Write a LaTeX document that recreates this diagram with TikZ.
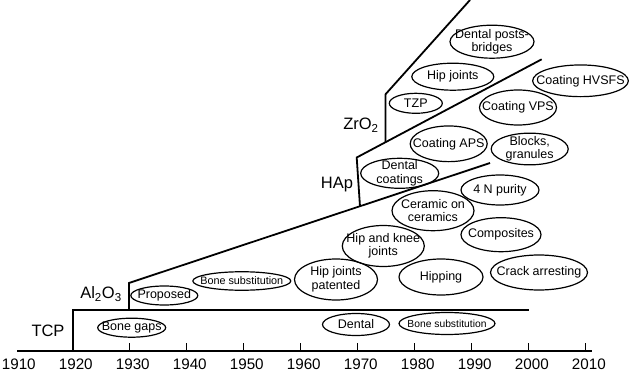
\documentclass[tikz,border=0pt]{standalone}
\usepackage{fontspec}
\setmainfont{Liberation Sans}
\usetikzlibrary{shapes.geometric}
\tikzset{
  struct/.style={line width=1.8pt, line join=miter},
  axisline/.style={line width=1.4pt},
  elltext/.style={inner sep=0pt, align=center, font=\fontsize{12.5}{13.5}\selectfont},
  smalltext/.style={font=\fontsize{10.8}{12}\selectfont},
  ellline/.style={line width=1.2pt},
  matlab/.style={inner sep=0pt, font=\fontsize{16.5}{18}\selectfont},
  yearlab/.style={inner sep=0pt, font=\fontsize{15.2}{16}\selectfont}
}
\newcommand{\ellnode}[7][]{%
  \node[elltext,#1] (#2) at (#3,#4) {#7};
  \draw[ellline] (#2.center) ellipse [x radius={#5*0.5pt}, y radius={#6*0.5pt}];}
\begin{document}
\begin{tikzpicture}[x=1pt,y=-1pt]
\useasboundingbox (0,0) rectangle (630,372);
% axis
\coordinate (ax0) at (17,351);
\coordinate (ax1) at (592,351);
\draw[axisline] (ax0) -- (ax1);
\foreach \k in {2,...,10}{
  \coordinate (t\k) at ({15.7+57*\k},351);
  \draw[axisline] (t\k) -- ++(0,-8);
}
\foreach \k/\yr in {0/1910,1/1920,2/1930,3/1940,4/1950,5/1960,6/1970,7/1980,8/1990,9/2000,10/2010}{
  \node[yearlab] (y\yr) at ({18.8+57*\k},364) {\yr};
}
% TCP region
\coordinate (tcpA) at (72.7,351);
\coordinate (tcpB) at (72.7,310);
\coordinate (tcpC) at (528.7,310);
\draw[struct] (tcpA) -- (tcpB) -- (tcpC);
% Al2O3 region
\coordinate (alA) at (129,310);
\coordinate (alB) at (129,283);
\coordinate (alC) at (490,163);
\draw[struct] (alA) -- (alB) -- (alC);
% HAp region
\coordinate (haA) at (360,206.5);
\coordinate (haB) at (356.7,157.5);
\coordinate (haC) at (541.7,59.3);
\draw[struct] (haA) -- (haB) -- (haC);
% ZrO2 region
\coordinate (zrA) at (385.5,142.3);
\coordinate (zrB) at (385.5,94.3);
\coordinate (zrC) at (470,0);
\draw[struct] (zrA) -- (zrB) -- (zrC);
% material labels
\node[matlab] (tcp) at (48,331) {TCP};
\node[matlab] (al) at (101,294) {Al\textsubscript{2}O\textsubscript{3}};
\node[matlab] (hap) at (337,185) {HAp};
\node[matlab] (zr) at (361,125) {ZrO\textsubscript{2}};
% ellipses
\ellnode{bonegaps}{131.7}{327.7}{68}{19}{Bone gaps}
\ellnode{dental}{356}{324.5}{67}{22}{Dental}
\ellnode[font=\fontsize{10.3}{12}\selectfont]{bonesubT}{447}{323.5}{96}{22}{Bone substitution}
\ellnode{proposed}{164.3}{295.5}{67}{19}{Proposed}
\ellnode[smalltext]{bonesubA}{241.8}{281}{98}{18.5}{Bone substitution}
\ellnode{hippat}{336}{279.5}{83}{41}{Hip joints\\patented}
\ellnode{hipknee}{383.3}{246}{82}{41}{Hip and knee\\joints}
\ellnode{hipping}{441}{277}{84}{36}{Hipping}
\ellnode{crack}{539}{272.5}{97}{35}{Crack arresting}
\ellnode{ceramic}{433}{210.7}{82}{40}{Ceramic on\\ceramics}
\ellnode{composites}{501}{234.7}{80}{34}{Composites}
\ellnode{purity}{500}{190}{78}{30}{4 N purity}
\ellnode{dentalcoat}{399.7}{173.3}{78}{30}{Dental\\coatings}
\ellnode{coatAPS}{448.7}{143.8}{77}{35.7}{Coating APS}
\ellnode{blocks}{529.7}{149}{77}{31.7}{Blocks,\\granules}
\ellnode{coatVPS}{518}{107.5}{77}{35}{Coating VPS}
\ellnode{coatHV}{580.5}{80.8}{95.7}{31.7}{Coating HVSFS}
\ellnode{tzp}{415.8}{103.3}{53}{20}{TZP}
\ellnode{hipZ}{452.8}{76.7}{82}{27}{Hip joints}
\ellnode{posts}{492}{41.7}{84}{33}{Dental posts-\\bridges}
\end{tikzpicture}
\end{document}
